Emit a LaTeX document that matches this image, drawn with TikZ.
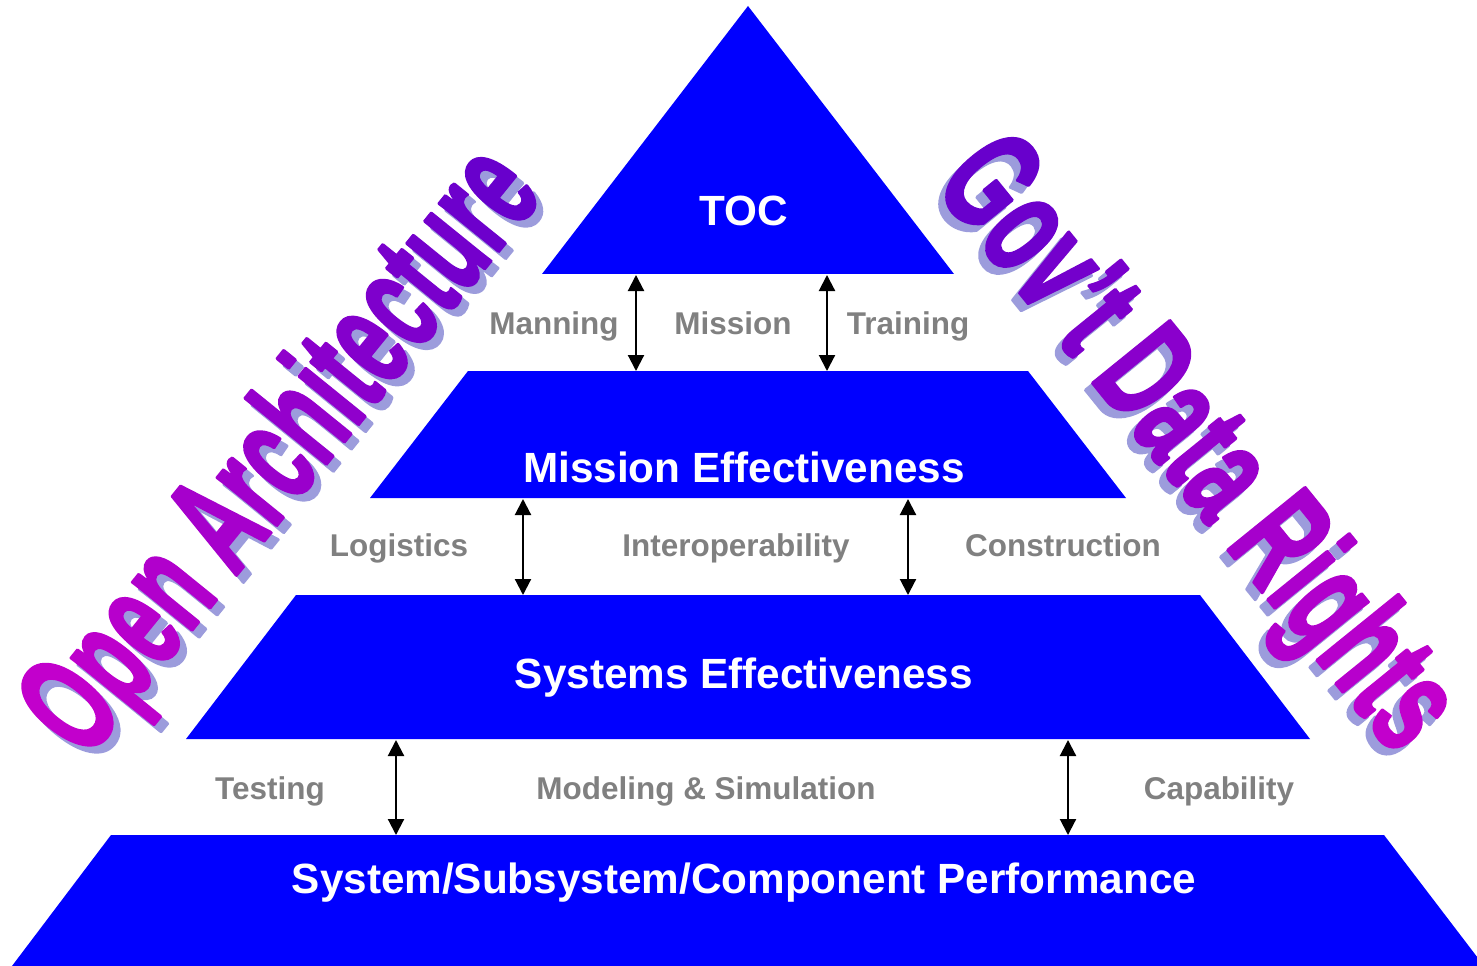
\documentclass[tikz,border=0pt]{standalone}
\usepackage{fontspec}
\usepackage{graphicx}
\setmainfont{Liberation Sans}
\usetikzlibrary{arrows.meta}
\definecolor{pyrblue}{RGB}{0,0,255}
\definecolor{lblgray}{RGB}{128,128,128}
\definecolor{WAa}{RGB}{194,0,204}
\definecolor{WAb}{RGB}{104,0,204}
\definecolor{WAshadow}{RGB}{156,156,220}
\newcommand\gl[2]{\textcolor{WAb!#1!WAa}{#2}}
\newcommand\fatOn{\special{pdf:literal direct 2 Tr 2.6 w 1 j}}
\newcommand\fatOff{\special{pdf:literal direct 0 Tr}}
\tikzset{
  level/.style={fill=pyrblue},
  mainlbl/.style={text=white, font=\fontsize{31.7pt}{38pt}\selectfont\bfseries, anchor=base, inner sep=0pt},
  sidelbl/.style={text=lblgray, font=\fontsize{23.6pt}{28pt}\selectfont\bfseries, anchor=base, inner sep=0pt},
  link/.style={black, line width=1.6pt, {Triangle[width=12pt,length=12pt]}-{Triangle[width=12pt,length=12pt]}},
  wordart/.style={font=\fontsize{108pt}{108pt}\selectfont\bfseries, anchor=base, inner sep=0pt},
}
\begin{document}
\begin{tikzpicture}[x=0.75pt,y=-0.75pt]
\useasboundingbox (0,0) rectangle (1477,966);
% pyramid levels
\fill[level] (748,6) -- (954,274) -- (542,274) -- cycle;
\fill[level] (468,371) -- (1028,371) -- (1126,498) -- (370,498) -- cycle;
\fill[level] (296,595) -- (1200,595) -- (1310,739) -- (186,739) -- cycle;
\fill[level] (111,835) -- (1384,835) -- (1484,966) -- (12,966) -- cycle;
% level labels
\node[mainlbl] (toc) at (744,226) {TOC};
\node[mainlbl] (me) at (744,482) {Mission Effectiveness};
\node[mainlbl] (se) at (744,688) {Systems Effectiveness};
\node[mainlbl] (sp) at (744,893) {System/Subsystem/Component Performance};
% side labels
\node[sidelbl] (manning) at (554,334) {Manning};
\node[sidelbl] (mission) at (733,334) {Mission};
\node[sidelbl] (training) at (908,334) {Training};
\node[sidelbl] (logistics) at (399,556) {Logistics};
\node[sidelbl] (interop) at (736,556) {Interoperability};
\node[sidelbl] (construction) at (1063,556) {Construction};
\node[sidelbl] (testing) at (270,799) {Testing};
\node[sidelbl] (modsim) at (706,799) {Modeling \& Simulation};
\node[sidelbl] (capability) at (1219,799) {Capability};
% arrow end points
\coordinate (a1t) at (636,275); \coordinate (a1b) at (636,371);
\coordinate (a2t) at (827,275); \coordinate (a2b) at (827,371);
\coordinate (b1t) at (523,499); \coordinate (b1b) at (523,595);
\coordinate (b2t) at (908,499); \coordinate (b2b) at (908,595);
\coordinate (c1t) at (396,740); \coordinate (c1b) at (396,835);
\coordinate (c2t) at (1068,740); \coordinate (c2b) at (1068,835);
\draw[link] (a1t) -- (a1b);
\draw[link] (a2t) -- (a2b);
\draw[link] (b1t) -- (b1b);
\draw[link] (b2t) -- (b2b);
\draw[link] (c1t) -- (c1b);
\draw[link] (c2t) -- (c2b);
% word art: Open Architecture
\node[wordart, rotate=51, text=WAshadow] (oashadow) at (322,485) {\fatOn\scalebox{0.58}[1]{Open Architecture}\fatOff};
\node[wordart, rotate=51] (oa) at (315,478) {\fatOn\scalebox{0.58}[1]{\gl{0}{O}\gl{6}{p}\gl{12}{e}\gl{19}{n} \gl{31}{A}\gl{37}{r}\gl{44}{c}\gl{50}{h}\gl{56}{i}\gl{62}{t}\gl{69}{e}\gl{75}{c}\gl{81}{t}\gl{87}{u}\gl{94}{r}\gl{100}{e}}\fatOff};
% word art: Gov't Data Rights
\node[wordart, rotate=-51, text=WAshadow] (gdshadow) at (1157,478) {\fatOn\scalebox{0.61}[1]{Gov't Data Rights}\fatOff};
\node[wordart, rotate=-51] (gd) at (1164,471) {\fatOn\scalebox{0.61}[1]{\gl{100}{G}\gl{94}{o}\gl{87}{v}\gl{81}{'}\gl{75}{t} \gl{62}{D}\gl{56}{a}\gl{50}{t}\gl{44}{a} \gl{31}{R}\gl{25}{i}\gl{19}{g}\gl{12}{h}\gl{6}{t}\gl{0}{s}}\fatOff};
\end{tikzpicture}
\end{document}
